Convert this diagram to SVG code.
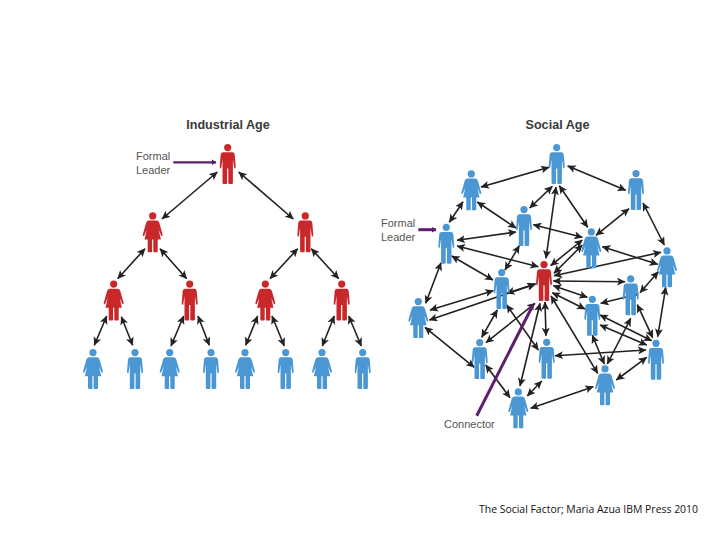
<svg xmlns="http://www.w3.org/2000/svg" width="720" height="540" viewBox="0 0 720 540">
<style>
.t{font-family:"Liberation Sans",Arial,sans-serif;font-size:12.6px;font-weight:bold;fill:#3a3a3a;text-anchor:middle}
.l{font-family:"Liberation Sans",Arial,sans-serif;font-size:11px;fill:#555}
.c{font-family:"Open Sans","Liberation Sans",sans-serif;font-size:10.5px;fill:#111}
.r{fill:#c8282a}.b{fill:#4b97d3}
#links line{stroke:#222;stroke-width:1.6;marker-start:url(#a);marker-end:url(#a)}
.p{stroke:#5b1f6e;fill:none;marker-end:url(#pa)}
</style>
<defs>
<marker id="a" markerUnits="userSpaceOnUse" markerWidth="10" markerHeight="9" refX="8" refY="4" orient="auto-start-reverse"><path d="M0,0L8.5,4L0,8L2,4Z" fill="#222"/></marker>
<marker id="pa" markerUnits="userSpaceOnUse" markerWidth="6" markerHeight="7" refX="4.5" refY="3" orient="auto"><path d="M0,0L5,3L0,6Z" fill="#5b1f6e"/></marker>
<g id="man"><circle cx="0" cy="3.6" r="3.6"/><path d="M-4.6,8.2H4.6Q6.6,8.2 7,10.4L8,22.6Q8,24.6 6.6,24.4L5.2,15.5V39Q5.2,40 4,40H1.5Q.6,40 .6,39V24.5H-.6V39Q-.6,40 -1.5,40H-4Q-5.2,40 -5.2,39V15.5L-6.6,24.4Q-8,24.6 -8,22.6L-7,10.4Q-6.6,8.2 -4.6,8.2Z"/></g>
<g id="woman"><circle cx="0" cy="3.6" r="3.6"/><path d="M-3.8,8.2H3.8Q5.8,8.2 6.6,10.4L10,22.6Q10,24 8.6,23.6L6,17.5L8.2,27.2H5V39Q5,40 4,40H1.4Q.6,40 .6,39V27.2H-.6V39Q-.6,40 -1.4,40H-4Q-5,40 -5,39V27.2H-8.2L-6,17.5L-8.6,23.6Q-10,24 -10,22.6L-6.6,10.4Q-5.8,8.2 -3.8,8.2Z"/></g>
</defs>
<rect width="720" height="540" fill="#fff"/>
<text class="t" x="228" y="128.5">Industrial Age</text>
<text class="t" x="557.5" y="128.5">Social Age</text>
<text class="l" x="136" y="160">Formal</text>
<text class="l" x="136" y="173.5">Leader</text>
<text class="l" x="381" y="227">Formal</text>
<text class="l" x="381" y="240.5">Leader</text>
<text class="l" x="444" y="428">Connector</text>
<text class="c" x="479" y="513" textLength="219" lengthAdjust="spacingAndGlyphs">The Social Factor; Maria Azua IBM Press 2010</text>
<g id="links">
<line x1="217.3" y1="172" x2="162" y2="219"/><line x1="238.7" y1="172" x2="293.3" y2="219"/>
<line x1="145" y1="248.7" x2="117.7" y2="278.7"/><line x1="160" y1="248.7" x2="186.7" y2="278.7"/>
<line x1="297.7" y1="248.7" x2="270" y2="278.7"/><line x1="311.3" y1="248.7" x2="338.7" y2="278.7"/>
<line x1="106.7" y1="316" x2="94.3" y2="345.3"/><line x1="121.3" y1="316.7" x2="132.7" y2="345.3"/>
<line x1="183.7" y1="316" x2="171" y2="346"/><line x1="198" y1="316" x2="209.3" y2="345.3"/>
<line x1="257.7" y1="316" x2="245.7" y2="345.3"/><line x1="272" y1="316" x2="284.3" y2="346"/>
<line x1="334.3" y1="316" x2="322.3" y2="346"/><line x1="348.7" y1="316" x2="361.3" y2="346"/>

<line x1="549" y1="167.3" x2="481" y2="187"/>
<line x1="567.7" y1="166" x2="625.7" y2="190.3"/>
<line x1="552.3" y1="186.3" x2="529.7" y2="208"/>
<line x1="556" y1="187" x2="546" y2="258.3"/>
<line x1="559.3" y1="185.7" x2="587.7" y2="227.3"/>
<line x1="463" y1="201.7" x2="449.3" y2="222.3"/>
<line x1="477.3" y1="202" x2="516" y2="228"/>
<line x1="629" y1="208.7" x2="596" y2="235.3"/>
<line x1="643" y1="203" x2="664.3" y2="245"/>
<line x1="516" y1="232" x2="457" y2="240.3"/>
<line x1="533.3" y1="224.7" x2="582.3" y2="237.3"/>
<line x1="519.3" y1="245.7" x2="505" y2="270"/>
<line x1="457" y1="246" x2="538.3" y2="266.7"/>
<line x1="451.7" y1="256" x2="493" y2="280"/>
<line x1="441" y1="262.7" x2="425.7" y2="303.3"/>
<line x1="582.3" y1="240" x2="550.7" y2="265.7"/>
<line x1="582.3" y1="245" x2="554" y2="273.3"/>
<line x1="602.3" y1="246.7" x2="657.7" y2="264.3"/>
<line x1="661" y1="252.3" x2="554" y2="275.7"/>
<line x1="658.3" y1="271.7" x2="640" y2="292.7"/>
<line x1="665.7" y1="287.3" x2="657.7" y2="336.7"/>
<line x1="553.3" y1="281" x2="625" y2="281.7"/>
<line x1="553.3" y1="285.7" x2="587.3" y2="297.3"/>
<line x1="552.3" y1="292.7" x2="585" y2="309"/>
<line x1="638.3" y1="294" x2="600.7" y2="303.3"/>
<line x1="637.3" y1="304.7" x2="652.7" y2="337.7"/>
<line x1="600" y1="315" x2="651.7" y2="340.7"/>
<line x1="600" y1="325" x2="646.7" y2="345"/>
<line x1="592.3" y1="335.3" x2="604.3" y2="364"/>
<line x1="630.7" y1="318.3" x2="607.3" y2="364"/>
<line x1="551" y1="296" x2="597.7" y2="373.3"/>
<line x1="545" y1="302" x2="546" y2="335.7"/>
<line x1="540" y1="303.3" x2="520" y2="386"/>
<line x1="535" y1="284" x2="506.7" y2="293.3"/>
<line x1="493.3" y1="290.7" x2="430" y2="310"/>
<line x1="429.3" y1="320" x2="535.7" y2="284"/>
<line x1="497.3" y1="310" x2="481.7" y2="337.3"/>
<line x1="535" y1="303.3" x2="486" y2="342.7"/>
<line x1="506.7" y1="305" x2="538.3" y2="350"/>
<line x1="425" y1="327.3" x2="474.3" y2="367.3"/>
<line x1="485.7" y1="365" x2="510" y2="397.7"/>
<line x1="555" y1="355.7" x2="646" y2="350"/>
<line x1="541.7" y1="381" x2="527.3" y2="396"/>
<line x1="646.7" y1="357.3" x2="616.3" y2="380"/>
<line x1="593.3" y1="386.7" x2="530.7" y2="408.3"/>
</g>
<path class="p" stroke-width="2.2" d="M173.3,162.3H216"/>
<path class="p" stroke-width="3" d="M418.3,229.7H436"/>
<path class="p" stroke-width="3" d="M476.7,415.7L533,305"/>
<g id="i1" class="r"><use href="#man" x="227.7" y="144"/></g>
<g id="i2" class="r"><use href="#woman" x="152.7" y="212.3"/></g>
<g id="i3" class="r"><use href="#man" x="305.3" y="212.3"/></g>
<g id="i4" class="r"><use href="#woman" x="113.7" y="280.5"/></g>
<g id="i5" class="r"><use href="#man" x="189.7" y="280.5"/></g>
<g id="i6" class="r"><use href="#woman" x="265.3" y="280.5"/></g>
<g id="i7" class="r"><use href="#man" x="341.7" y="280.5"/></g>
<g id="i8" class="b"><use href="#woman" x="93" y="349"/></g>
<g id="i9" class="b"><use href="#man" x="135" y="349"/></g>
<g id="i10" class="b"><use href="#woman" x="169.7" y="349"/></g>
<g id="i11" class="b"><use href="#man" x="211" y="349"/></g>
<g id="i12" class="b"><use href="#woman" x="245" y="349"/></g>
<g id="i13" class="b"><use href="#man" x="285.7" y="349"/></g>
<g id="i14" class="b"><use href="#woman" x="322" y="349"/></g>
<g id="i15" class="b"><use href="#man" x="362.7" y="349"/></g>
<g id="sA" class="b"><use href="#man" x="556.7" y="144"/></g>
<g id="sB" class="b"><use href="#woman" x="471.3" y="170.3"/></g>
<g id="sC" class="b"><use href="#man" x="636" y="170"/></g>
<g id="sD" class="b"><use href="#man" x="524" y="206"/></g>
<g id="sE" class="b"><use href="#man" x="446.3" y="223.7"/></g>
<g id="sF" class="b"><use href="#woman" x="591.3" y="228.3"/></g>
<g id="sG" class="b"><use href="#woman" x="667" y="247.3"/></g>
<g id="sH" class="b"><use href="#man" x="501.7" y="269"/></g>
<g id="sI" class="r"><use href="#man" x="544" y="261"/></g>
<g id="sJ" class="b"><use href="#man" x="630.7" y="275.3"/></g>
<g id="sK" class="b"><use href="#woman" x="418.3" y="298"/></g>
<g id="sL" class="b"><use href="#man" x="592.3" y="295.7"/></g>
<g id="sM" class="b"><use href="#man" x="479.7" y="339"/></g>
<g id="sN" class="b"><use href="#man" x="546.7" y="338.7"/></g>
<g id="sO" class="b"><use href="#man" x="656" y="339.7"/></g>
<g id="sP" class="b"><use href="#woman" x="605" y="365.3"/></g>
<g id="sQ" class="b"><use href="#woman" x="518.3" y="388.3"/></g>
</svg>
